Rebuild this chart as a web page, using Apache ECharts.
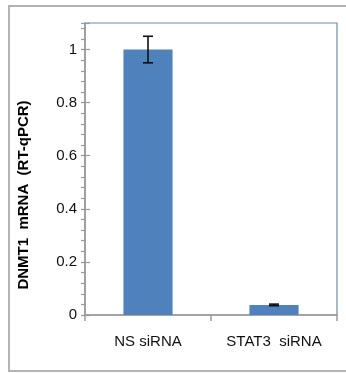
<!DOCTYPE html>
<html>
<head>
<meta charset="utf-8">
<script src="https://cdn.jsdelivr.net/npm/echarts@6/dist/echarts.min.js"></script>
<style>
html,body{margin:0;padding:0;background:#fff;overflow:hidden;width:346px;height:373px;}
#frameL{position:absolute;left:8px;top:5px;width:2px;height:367px;background:#b4b4b4;}
#frameT{position:absolute;left:8px;top:5px;width:338px;height:2px;background:#b4b4b4;}
#frameB{position:absolute;left:8px;top:370px;width:338px;height:2px;background:#b4b4b4;}
#chart{position:absolute;left:0;top:0;width:346px;height:373px;}
</style>
</head>
<body>
<div id="frameL"></div><div id="frameT"></div><div id="frameB"></div>
<div id="chart"></div>
<script>
const categories = ["NS siRNA", "STAT3  siRNA"];
const values = [1.0, 0.038];
const errors = [0.05, 0.003];
const yTicks = [0, 0.2, 0.4, 0.6, 0.8, 1];

const chart = echarts.init(document.getElementById('chart'), null, {renderer: 'canvas'});
const axisGray = '#9a9a9a';
const font = '"Liberation Sans", Arial, sans-serif';

const option = {
  animation: false,
  grid: {left: 85, right: 9, top: 23, bottom: 58, show: true, borderColor: '#6a8ca8', borderWidth: 1.2, backgroundColor: 'transparent'},
  xAxis: {
    type: 'category',
    data: categories,
    axisLine: {lineStyle: {color: axisGray, width: 1.5}},
    axisTick: {show: true, length: 6, lineStyle: {color: axisGray, width: 1.5}},
    axisLabel: {color: '#111', fontFamily: font, fontSize: 15, margin: 19}
  },
  yAxis: [
    {
      type: 'value', min: 0, max: 1.1, interval: 0.2,
      name: 'DNMT1  mRNA  (RT-qPCR)', nameLocation: 'middle', nameGap: 54,
      nameTextStyle: {fontFamily: font, fontWeight: 'bold', fontSize: 15, color: '#000', padding: [0, 52, 0, 0]},
      axisLine: {show: true, lineStyle: {color: axisGray, width: 1.5}},
      axisTick: {show: true, length: 4, lineStyle: {color: axisGray, width: 1.2}},
      axisLabel: {color: '#111', fontFamily: font, fontSize: 15, margin: 8, showMaxLabel: false,
        formatter: v => (yTicks.some(t => Math.abs(t - v) < 1e-9) ? String(Math.round(v * 10) / 10) : '')},
      splitLine: {show: false}
    },
    {
      type: 'value', min: 0, max: 1.1, interval: 0.04, position: 'left',
      axisLine: {show: false},
      axisTick: {show: true, length: 4, lineStyle: {color: axisGray, width: 1.2}},
      axisLabel: {show: false}, splitLine: {show: false}
    },
    {
      type: 'value', min: 0, max: 1.1, interval: 0.2, position: 'left',
      axisLine: {show: false},
      axisTick: {show: true, inside: true, length: 5, lineStyle: {color: axisGray, width: 1.2}},
      axisLabel: {show: false}, splitLine: {show: false}
    }
  ],
  series: [
    {
      type: 'bar',
      data: values,
      barWidth: '39%',
      itemStyle: {color: '#4f81bd'},
      z: 2
    },
    {
      type: 'custom',
      z: 5,
      data: values.map((v, i) => [i, v, errors[i]]),
      renderItem: function (params, api) {
        const i = api.value(0), v = api.value(1), e = api.value(2);
        const hi = api.coord([i, v + e]);
        const lo = api.coord([i, v - e]);
        const cap = 5;
        const style = {stroke: '#111', lineWidth: 1.6};
        return {
          type: 'group',
          children: [
            {type: 'line', shape: {x1: hi[0], y1: hi[1], x2: lo[0], y2: lo[1]}, style: style},
            {type: 'line', shape: {x1: hi[0] - cap, y1: hi[1], x2: hi[0] + cap, y2: hi[1]}, style: style},
            {type: 'line', shape: {x1: lo[0] - cap, y1: lo[1], x2: lo[0] + cap, y2: lo[1]}, style: style}
          ]
        };
      }
    }
  ]
};
chart.setOption(option);
</script>
</body>
</html>
